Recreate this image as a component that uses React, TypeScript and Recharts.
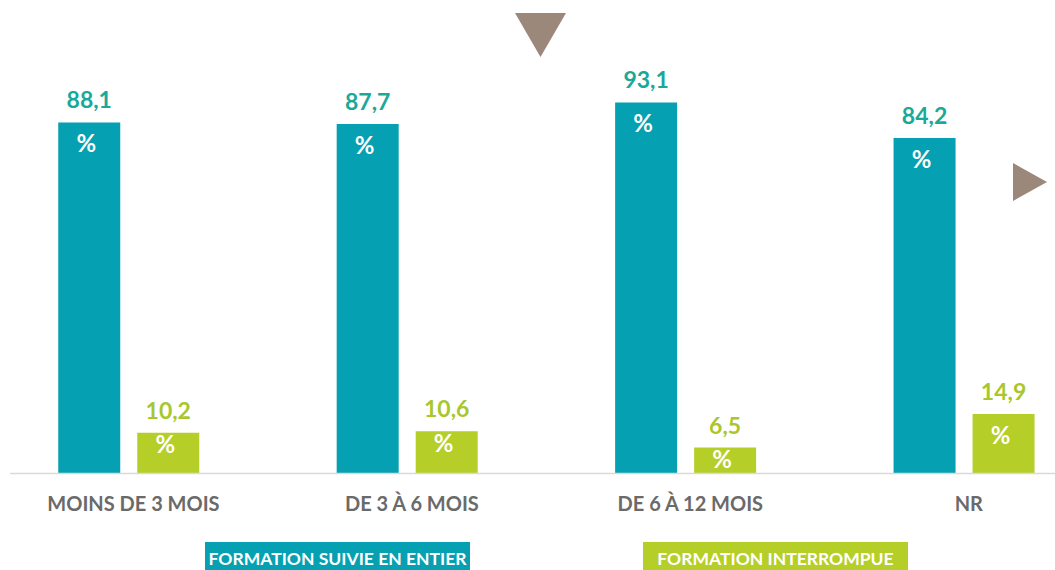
import React from "react";
import { BarChart, Bar, XAxis, YAxis, LabelList, Legend, Customized } from "recharts";

const categories = ["MOINS DE 3 MOIS", "DE 3 À 6 MOIS", "DE 6 À 12 MOIS", "NR"];
const entier = [88.1, 87.7, 93.1, 84.2];
const interrompue = [10.2, 10.6, 6.5, 14.9];
const seriesNames = ["FORMATION SUIVIE EN ENTIER", "FORMATION INTERROMPUE"];

const data = categories.map((c, i) => ({ cat: c, entier: entier[i], interrompue: interrompue[i] }));

const TEAL = "#05A0B1";
const TEAL_TEXT = "#1AA898";
const GREEN = "#B6CE28";
const GREEN_TEXT = "#A9C72D";
const BROWN = "#9C877B";
const FONT = "Lato, 'Open Sans', sans-serif";

const fmt = (v: number) => v.toFixed(1).replace(".", ",");

const makeTopLabel = (color: string) => (props: any) => {
  const { x, y, width, value } = props;
  return (
    <text x={x + width / 2} y={y - 14} textAnchor="middle" fill={color}
      style={{ fontFamily: FONT, fontWeight: 700, fontSize: 23 }}>
      {fmt(value)}
    </text>
  );
};

const pctLabel = (props: any) => {
  const { x, y, width, height } = props;
  const off = Math.min(30, Math.max(20, height * 0.5));
  return (
    <text x={x + width / 2 - 3} y={y + off} textAnchor="middle" fill="#ffffff"
      style={{ fontFamily: FONT, fontWeight: 700, fontSize: 24 }}>
      %
    </text>
  );
};

const Tick = (props: any) => {
  const { x, y, payload } = props;
  return (
    <text x={x + 5} y={y + 29} textAnchor="middle" fill="#6A6A6A"
      style={{ fontFamily: FONT, fontWeight: 700, fontSize: 20 }}>
      {payload.value}
    </text>
  );
};

const Decor = () => (
  <g>
    <polygon points="515,13 566,13 540.5,57" fill={BROWN} />
    <polygon points="1013,163 1047,182 1013,201" fill={BROWN} />
  </g>
);

const LegendContent = () => (
  <div style={{ position: "relative", width: 1055, height: 30 }}>
    {[0, 1].map((i) => (
      <div key={i} style={{
        position: "absolute", left: i === 0 ? 205 : 643, top: 0, width: 265, height: 30,
        background: i === 0 ? TEAL : GREEN, color: "#fff", fontFamily: FONT, fontWeight: 700,
        fontSize: 17.5, lineHeight: "34px", textAlign: "center", whiteSpace: "nowrap",
      }}>
        {seriesNames[i]}
      </div>
    ))}
  </div>
);

export default function App() {
  return (
    <div style={{ position: "absolute", left: 0, top: 0, width: 1055, height: 570, overflow: "hidden", background: "#fff" }}>
      <BarChart width={1055} height={570} data={data}
        margin={{ top: 75, right: 0, bottom: 0, left: 10 }}
        barGap={17} barSize={62}>
        <XAxis dataKey="cat" height={96.5} tickLine={false} tick={<Tick />}
          axisLine={{ stroke: "#D9D9D9", strokeWidth: 1.5 }}
          padding={{ left: -20.75, right: -48 }} interval={0} />
        <YAxis hide domain={[0, 100]} />
        <Legend layout="vertical" align="center" verticalAlign="middle"
          wrapperStyle={{ top: 542, left: 0, width: 1055 }} content={<LegendContent />} />
        <Bar dataKey="entier" name={seriesNames[0]} fill={TEAL} isAnimationActive={false}>
          <LabelList dataKey="entier" content={makeTopLabel(TEAL_TEXT)} />
          <LabelList dataKey="entier" content={pctLabel} />
        </Bar>
        <Bar dataKey="interrompue" name={seriesNames[1]} fill={GREEN} isAnimationActive={false}>
          <LabelList dataKey="interrompue" content={makeTopLabel(GREEN_TEXT)} />
          <LabelList dataKey="interrompue" content={pctLabel} />
        </Bar>
        <Customized component={Decor} />
      </BarChart>
    </div>
  );
}
